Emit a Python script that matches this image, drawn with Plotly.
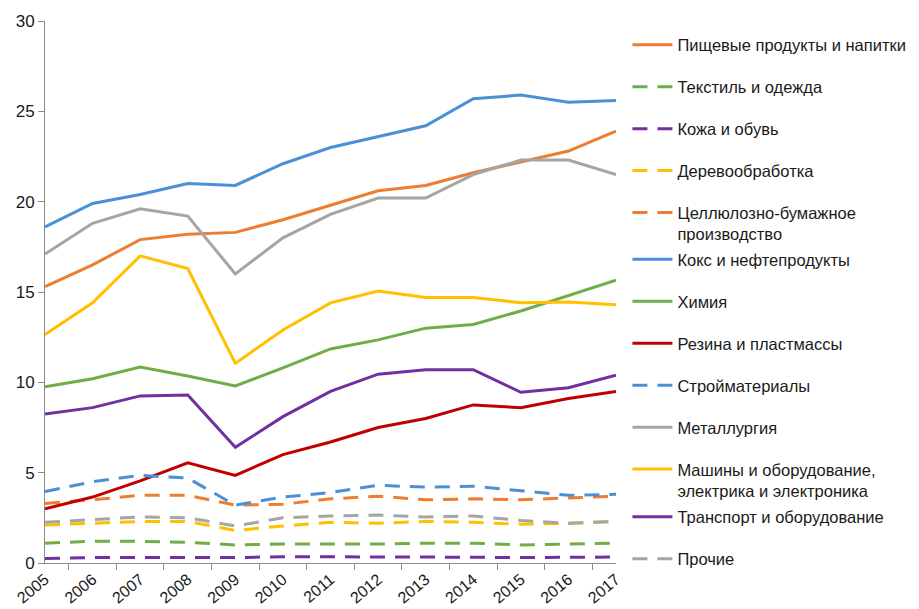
import plotly.graph_objects as go

years = [str(y) for y in range(2005, 2018)]

food = [15.3, 16.5, 17.9, 18.2, 18.3, 19.0, 19.8, 20.6, 20.9, 21.6, 22.2, 22.8, 23.9]
textile = [1.1, 1.2, 1.2, 1.15, 1.0, 1.05, 1.05, 1.05, 1.1, 1.1, 1.0, 1.05, 1.1]
leather = [0.25, 0.3, 0.3, 0.3, 0.3, 0.35, 0.35, 0.35, 0.33, 0.32, 0.3, 0.3, 0.33]
wood = [2.1, 2.2, 2.3, 2.3, 1.8, 2.05, 2.25, 2.2, 2.3, 2.25, 2.15, 2.2, 2.3]
paper = [3.3, 3.5, 3.75, 3.75, 3.2, 3.25, 3.55, 3.7, 3.5, 3.55, 3.5, 3.6, 3.7]
coke = [18.6, 19.9, 20.4, 21.0, 20.9, 22.1, 23.0, 23.6, 24.2, 25.7, 25.9, 25.5, 25.6]
chem = [9.75, 10.2, 10.85, 10.35, 9.8, 10.8, 11.85, 12.35, 13.0, 13.2, 13.95, 14.8, 15.65]
rubber = [3.0, 3.65, 4.55, 5.55, 4.85, 6.0, 6.7, 7.5, 8.0, 8.75, 8.6, 9.1, 9.5]
building = [3.95, 4.5, 4.85, 4.7, 3.2, 3.65, 3.9, 4.3, 4.2, 4.25, 4.0, 3.75, 3.8]
metal = [17.1, 18.8, 19.6, 19.2, 16.0, 18.0, 19.3, 20.2, 20.2, 21.5, 22.3, 22.3, 21.5]
machines = [12.65, 14.4, 17.0, 16.3, 11.05, 12.9, 14.4, 15.05, 14.7, 14.7, 14.4, 14.45, 14.3]
transport = [8.25, 8.6, 9.25, 9.3, 6.4, 8.1, 9.5, 10.45, 10.7, 10.7, 9.45, 9.7, 10.4]
other = [2.25, 2.4, 2.55, 2.5, 2.05, 2.5, 2.6, 2.65, 2.55, 2.6, 2.35, 2.2, 2.3]

ORANGE = "#ED7D31"
GREEN = "#70AD47"
PURPLE = "#7030A0"
YELLOW = "#FFC000"
BLUE = "#4A90D6"
GRAY = "#A5A5A5"
RED = "#C00000"
DASH = "15px,10px"

series = [
    ("Пищевые продукты и напитки", food, ORANGE, "solid", "legend"),
    ("Текстиль и одежда", textile, GREEN, DASH, "legend"),
    ("Кожа и обувь", leather, PURPLE, DASH, "legend"),
    ("Деревообработка", wood, YELLOW, DASH, "legend"),
    ("Целлюлозно-бумажное<br>производство", paper, ORANGE, DASH, "legend"),
    ("Кокс и нефтепродукты", coke, BLUE, "solid", "legend2"),
    ("Химия", chem, GREEN, "solid", "legend2"),
    ("Резина и пластмассы", rubber, RED, "solid", "legend2"),
    ("Стройматериалы", building, BLUE, DASH, "legend2"),
    ("Металлургия", metal, GRAY, "solid", "legend2"),
    ("Машины и оборудование,<br>электрика и электроника", machines, YELLOW, "solid", "legend2"),
    ("Транспорт и оборудование", transport, PURPLE, "solid", "legend3"),
    ("Прочие", other, GRAY, DASH, "legend3"),
]

fig = go.Figure()
for i, (name, vals, color, dash, lg) in enumerate(series):
    fig.add_trace(go.Scatter(
        x=years, y=vals, name=name, mode="lines",
        line=dict(color=color, width=3, dash=dash),
        legendgroup=f"g{i}", legend=lg,
    ))

legend_common = dict(
    x=1.02, xanchor="left", yanchor="top",
    font=dict(size=16.5, color="#1a1a1a"),
    tracegroupgap=17.5, valign="top", itemwidth=40,
    bgcolor="rgba(0,0,0,0)", borderwidth=0,
)

fig.update_layout(
    width=919, height=609,
    margin=dict(l=37, r=311, t=13, b=54),
    plot_bgcolor="white", paper_bgcolor="white",
    font=dict(family="Liberation Sans, Arial, sans-serif", size=16, color="#1a1a1a"),
    showlegend=True,
    legend=dict(y=0.988, **legend_common),
    legend2=dict(y=0.592, **legend_common),
    legend3=dict(y=0.117, **legend_common),
    xaxis=dict(
        type="category", tickangle=-40,
        showline=True, linecolor="#8c8c8c", linewidth=1,
        ticks="outside", tickson="boundaries", ticklen=6, tickcolor="#8c8c8c",
        showgrid=False, zeroline=False,
        tickfont=dict(size=16),
        automargin=False,
    ),
    yaxis=dict(
        range=[0, 30], dtick=5,
        showline=True, linecolor="#8c8c8c", linewidth=1,
        ticks="outside", ticklen=6, tickcolor="#8c8c8c",
        showgrid=False, zeroline=False,
        tickfont=dict(size=17),
        automargin=False,
    ),
)

fig.write_html("out.html")
